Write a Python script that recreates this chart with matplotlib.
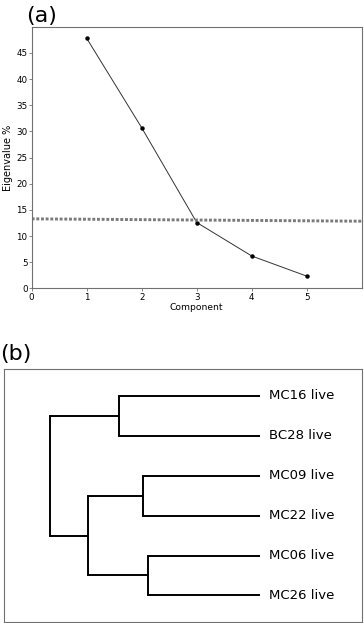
import matplotlib.pyplot as plt

# (a) scree plot values
components = [1, 2, 3, 4, 5]
eigen_pct = [47.8, 30.7, 12.6, 6.2, 2.35]
cutoff_x = [0, 6]
cutoff_y = [13.3, 12.85]

# (b) dendrogram: leaves (top to bottom) and merges (left child, right child, height)
leaves = ["MC16 live", "BC28 live", "MC09 live", "MC22 live", "MC06 live", "MC26 live"]
merges = [(0, 1, 0.67), (2, 3, 0.555), (4, 5, 0.53), (7, 8, 0.82), (6, 9, 1.0)]

fig = plt.figure(figsize=(3.64, 6.23), dpi=100)
grey = "#707070"

# ---- panel (a)
ax = fig.add_axes([0.087, 0.537, 0.907, 0.42])
ax.plot(components, eigen_pct, color="#333333", lw=0.7)
ax.plot(components, eigen_pct, "o", color="black", ms=2.2)
ax.plot(cutoff_x, cutoff_y, color="#7a7a7a", lw=2.1, linestyle=(0, (1, 0.6)))
ax.set_xlim(0, 6)
ax.set_ylim(0, 50)
ax.set_xticks([0, 1, 2, 3, 4, 5])
ax.set_yticks(range(0, 50, 5))
ax.tick_params(labelsize=6.3, length=2, width=0.6, color=grey, pad=1)
ax.set_xlabel("Component", fontsize=6.6, labelpad=1)
ax.set_ylabel("Eigenvalue %", fontsize=7, labelpad=2)
for s in ax.spines.values():
    s.set_color(grey)
    s.set_linewidth(0.8)
fig.text(0.072, 0.958, "(a)", fontsize=16, ha="left", va="bottom")

# ---- panel (b)
bx = fig.add_axes([0.011, 0.001, 0.9835, 0.4067])
pos = {i: (0.0, float(i)) for i in range(len(leaves))}
nid = len(leaves)
for a, b, h in merges:
    xa, ya = pos[a]
    xb, yb = pos[b]
    bx.plot([xa, h, h, xb], [ya, ya, yb, yb], color="black", lw=1.4,
            solid_joinstyle="miter")
    pos[nid] = (h, (ya + yb) / 2)
    nid += 1
for i, name in enumerate(leaves):
    bx.text(-0.05, i, name, fontsize=9.5, va="center", ha="left")
bx.set_xlim(1.22, -0.493)
bx.set_ylim(5.675, -0.675)
bx.set_xticks([])
bx.set_yticks([])
for s in bx.spines.values():
    s.set_color(grey)
    s.set_linewidth(0.8)
fig.text(0.0, 0.416, "(b)", fontsize=16, ha="left", va="bottom")

fig.savefig("out.png", dpi=100)
